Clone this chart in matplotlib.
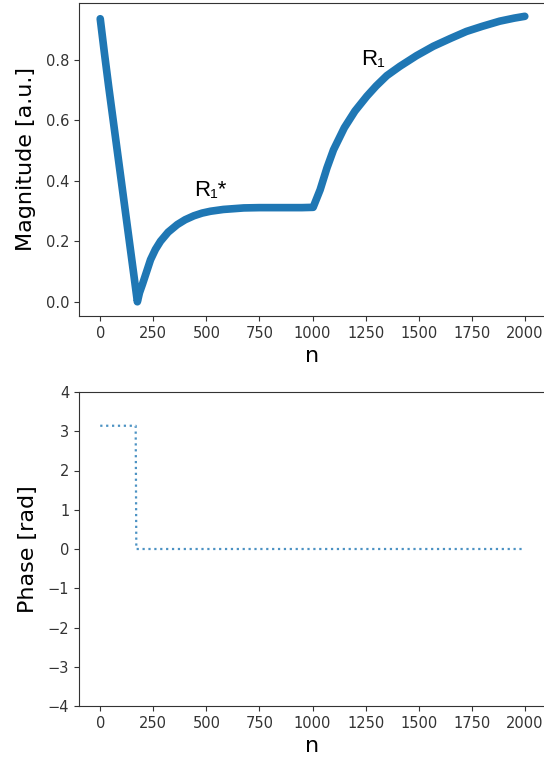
import numpy as np
import matplotlib
matplotlib.use('Agg')
import matplotlib.pyplot as plt

# magnitude
n_mag = [0, 20, 40, 60, 80, 100, 120, 140, 160, 175,
         185, 199, 215, 237, 260, 284, 320, 363, 400, 441, 480, 519, 580, 676, 750,
         850, 950, 1003,
         1036, 1068, 1099, 1150, 1200, 1256, 1300, 1350, 1412, 1490, 1569,
         1650, 1725, 1800, 1882, 1950, 2000]
mag = [0.935, 0.82, 0.71, 0.605, 0.50, 0.395, 0.29, 0.185, 0.08, 0.0,
       0.03, 0.058, 0.092, 0.139, 0.173, 0.2, 0.23, 0.255, 0.271, 0.284, 0.293, 0.299, 0.305, 0.31, 0.311,
       0.311, 0.311, 0.312,
       0.37, 0.442, 0.502, 0.575, 0.63, 0.679, 0.713, 0.747, 0.778, 0.813, 0.844,
       0.87, 0.893, 0.91, 0.927, 0.937, 0.943]

# phase
n_ph = [0, 167, 170, 2000]
phase = [3.14, 3.14, 0.0, 0.0]

labels = ['R\u2081*', 'R\u2081']
label_pos = [(440, 0.35), (1228, 0.783)]

fig = plt.figure(figsize=(5.44, 7.57), dpi=100)
ax1 = fig.add_axes([79 / 544, 1 - 316 / 757, 467 / 544, 313 / 757])
ax2 = fig.add_axes([79 / 544, 1 - 706 / 757, 467 / 544, 314 / 757])

ax1.plot(n_mag, mag, color='#1f77b4', lw=5.5, solid_capstyle='round',
         solid_joinstyle='round')
ax1.set_xlim(-100, 2100)
ax1.set_ylim(-0.047, 0.987)
ax1.set_yticks([0.0, 0.2, 0.4, 0.6, 0.8])
ax1.set_xticks(np.arange(0, 2001, 250))
ax1.set_xlabel('n', fontsize=16)
ax1.set_ylabel('Magnitude [a.u.]', fontsize=16, labelpad=7)
for txt, (x, y) in zip(labels, label_pos):
    ax1.text(x, y, txt, fontsize=16, family=['Liberation Sans', 'DejaVu Sans'])

ax2.plot(n_ph, phase, color='#1f77b4', ls=':', lw=1.6, alpha=0.8)
ax2.set_xlim(-100, 2100)
ax2.set_ylim(-4, 4)
ax2.set_xticks(np.arange(0, 2001, 250))
ax2.set_xlabel('n', fontsize=16)
ax2.set_ylabel('Phase [rad]', fontsize=16, labelpad=7)

for ax in (ax1, ax2):
    ax.tick_params(labelsize=10.5, colors='#333333')
    for s in ax.spines.values():
        s.set_color('#333333')

fig.savefig('out.png', dpi=100)
